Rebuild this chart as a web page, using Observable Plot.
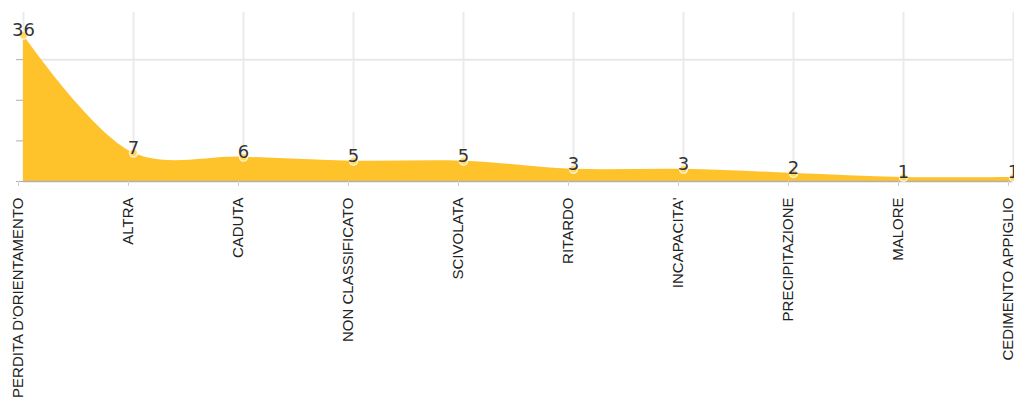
<!DOCTYPE html>
<html>
<head>
<meta charset="utf-8">
<script src="https://cdn.jsdelivr.net/npm/d3@7"></script>
<script src="https://cdn.jsdelivr.net/npm/@observablehq/plot@0.6"></script>
<style>
  html, body { margin: 0; padding: 0; background: #fff; }
  #chart svg { display: block; }
</style>
</head>
<body>
<div id="chart"></div>
<script>
// Causes of rescue interventions, by number of cases
const categories = [
  "PERDITA D'ORIENTAMENTO",
  "ALTRA",
  "CADUTA",
  "NON CLASSIFICATO",
  "SCIVOLATA",
  "RITARDO",
  "INCAPACITA'",
  "PRECIPITAZIONE",
  "MALORE",
  "CEDIMENTO APPIGLIO"
];
const counts = [36, 7, 6, 5, 5, 3, 3, 2, 1, 1];
const yTicks = [0, 10, 20, 30];
const yGrid = [30];

const data = categories.map((causa, i) => ({causa, n: counts[i]}));

const chart = Plot.plot({
  width: 1014,
  height: 401,
  marginTop: 12,
  marginBottom: 220,
  marginLeft: 23,
  marginRight: 1,
  style: {fontFamily: "'Liberation Sans', Arial, sans-serif", background: "#fff", overflow: "visible"},
  x: {type: "point", domain: categories, padding: 0, label: null},
  y: {domain: [0, 41.6], label: null},
  marks: [
    // vertical grid at each category
    Plot.ruleX(categories, {x: d => d, stroke: "#ebebeb", strokeWidth: 2}),
    Plot.ruleY(yGrid, {stroke: "#e8e8e8", strokeWidth: 2}),
    Plot.areaY(data, {x: "causa", y: "n", curve: "catmull-rom", fill: "#fec22b"}),
    Plot.ruleY([0], {stroke: "#b0b0b0", strokeWidth: 1.5}),
    Plot.axisY({ticks: yTicks, tickSize: 7, tickFormat: () => "", stroke: "#b0b0b0", label: null}),
    Plot.dot(data, {x: "causa", y: "n", r: 4, fill: "#ffd766", stroke: "#fff", strokeOpacity: 0.7}),
    Plot.text(data, {
      x: "causa", y: "n", text: d => String(d.n),
      lineAnchor: "bottom", dy: 1,
      fontFamily: "'DejaVu Sans', Verdana, sans-serif", fontSize: 18, fill: "#333"
    }),
    Plot.axisX({
      tickSize: 5, tickPadding: 11, tickRotate: -90, fontSize: 15, dx: -5,
      stroke: "#d0d0d0", fill: "#222", label: null
    })
  ]
});

document.getElementById("chart").appendChild(chart);
</script>
</body>
</html>
